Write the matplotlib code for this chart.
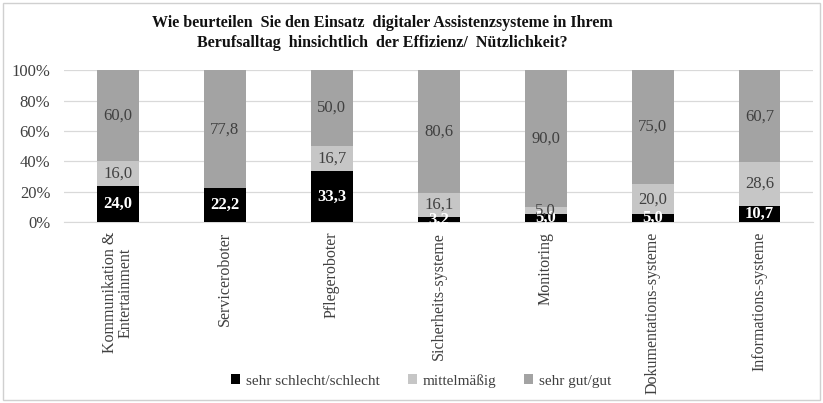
import matplotlib
matplotlib.use("Agg")
import matplotlib.pyplot as plt
from matplotlib.patches import Rectangle
import numpy as np

categories = ["Kommunikation &\nEntertainment", "Serviceroboter", "Pflegeroboter",
              "Sicherheits-systeme", "Monitoring", "Dokumentations-systeme",
              "Informations-systeme"]
schlecht = [24.0, 22.2, 33.3, 3.2, 5.0, 5.0, 10.7]
mittel = [16.0, 0.0, 16.7, 16.1, 5.0, 20.0, 28.6]
gut = [60.0, 77.8, 50.0, 80.6, 90.0, 75.0, 60.7]
series_names = ["sehr schlecht/schlecht", "mittelmäßig", "sehr gut/gut"]
yticks = [0, 20, 40, 60, 80, 100]

colors = ["#000000", "#c6c6c6", "#a3a3a3"]
txtcolors = ["#ffffff", "#404040", "#404040"]

plt.rcParams['font.family'] = ['Liberation Serif', 'DejaVu Serif']

fig = plt.figure(figsize=(8.23, 4.03), dpi=100)
ax = fig.add_axes([0.078, 0.449, 0.91, 0.377])

x = np.arange(len(categories))
bottom = np.zeros(len(categories))
for i, (vals, name) in enumerate(zip([schlecht, mittel, gut], series_names)):
    vals = np.array(vals)
    ax.bar(x, vals, 0.39, bottom=bottom, color=colors[i], label=name, zorder=3)
    for xi, v, b in zip(x, vals, bottom):
        if v > 0:
            ax.text(xi, b + v / 2, f"{v:.1f}".replace(".", ","), ha="center", va="center",
                    fontsize=12, color=txtcolors[i],
                    fontweight="bold" if i == 0 else "normal", zorder=4)
    bottom += vals

ax.set_xlim(-0.5, len(categories) - 0.5)
ax.set_ylim(0, 100)
ax.set_yticks(yticks)
ax.set_yticklabels([f"{t}%" for t in yticks], fontsize=12, color="#404040")
ax.yaxis.grid(True, color="#d9d9d9", linewidth=0.9, zorder=0)
for s in ax.spines.values():
    s.set_visible(False)
ax.spines['bottom'].set_visible(True)
ax.spines['bottom'].set_color("#d9d9d9")
ax.tick_params(axis="both", length=0)
ax.tick_params(axis="y", pad=10)
ax.set_xticks(x)
ax.set_xticklabels(categories, rotation=90, fontsize=11.5, color="#404040", va="top",
                   linespacing=1.0)
ax.tick_params(axis="x", pad=7)

fig.text(0.465, 0.918, "Wie beurteilen  Sie den Einsatz  digitaler Assistenzsysteme in Ihrem\n"
         "Berufsalltag  hinsichtlich  der Effizienz/  Nützlichkeit?",
         ha="center", va="center", fontsize=11.5, fontweight="bold", linespacing=1.3,
         color="#111111")

leg = fig.legend(loc="center", bbox_to_anchor=(0.512, 0.055), ncol=3, frameon=False,
                 fontsize=11, handlelength=0.6, handleheight=0.6, handletextpad=0.4,
                 columnspacing=1.8)
for t in leg.get_texts():
    t.set_color("#404040")

fig.patches.append(Rectangle((0.004, 0.008), 0.992, 0.984, transform=fig.transFigure,
                             fill=False, edgecolor="#d0d0d0", linewidth=1.0))

fig.savefig("out.png", dpi=100)
